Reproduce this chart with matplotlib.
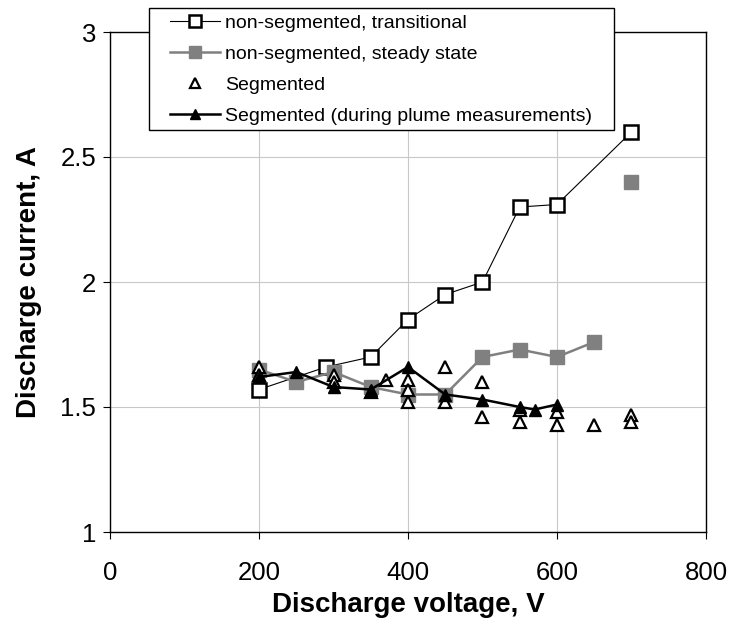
import matplotlib.pyplot as plt
from matplotlib.patches import Rectangle

plt.rcParams['font.family'] = ['Liberation Sans', 'DejaVu Sans']

# non-segmented, transitional
trans_v = [200, 290, 350, 400, 450, 500, 550, 600, 700]
trans_i = [1.57, 1.66, 1.70, 1.85, 1.95, 2.00, 2.30, 2.31, 2.60]

# non-segmented, steady state (last point not connected)
steady_v = [200, 250, 300, 350, 400, 450, 500, 550, 600, 650, 700]
steady_i = [1.65, 1.60, 1.64, 1.58, 1.55, 1.55, 1.70, 1.73, 1.70, 1.76, 2.40]

# Segmented
seg_v = [200, 200, 300, 300, 350, 370, 400, 400, 400, 450, 450, 500, 500,
         550, 550, 600, 600, 650, 700, 700]
seg_i = [1.66, 1.63, 1.63, 1.60, 1.56, 1.61, 1.61, 1.57, 1.52, 1.66, 1.52,
         1.60, 1.46, 1.49, 1.44, 1.48, 1.43, 1.43, 1.47, 1.44]

# Segmented (during plume measurements)
plume_v = [200, 250, 300, 350, 400, 450, 500, 550, 570, 600]
plume_i = [1.62, 1.64, 1.58, 1.57, 1.66, 1.55, 1.53, 1.50, 1.49, 1.51]

W, H = 730, 627
fig = plt.figure(figsize=(W / 100, H / 100), dpi=100)
ax = fig.add_axes([110 / W, 1 - 532 / H, 596 / W, 500 / H])

ax.plot(trans_v, trans_i, color='black', lw=0.8, marker='s', ms=10,
        mfc='white', mec='black', mew=1.8, label='non-segmented, transitional')
ax.plot(steady_v[:-1], steady_i[:-1], color='#808080', lw=1.8, marker='s', ms=10,
        mfc='#808080', mec='#808080', label='non-segmented, steady state')
ax.plot(steady_v[-1:], steady_i[-1:], ls='none', marker='s', ms=10,
        mfc='#808080', mec='#808080')
ax.plot(seg_v, seg_i, ls='none', marker='^', ms=9, mfc='white', mec='black',
        mew=1.6, label='Segmented')
ax.plot(plume_v, plume_i, color='black', lw=1.8, marker='^', ms=9,
        mfc='black', mec='black', label='Segmented (during plume measurements)')

ax.set_xlim(0, 800)
ax.set_ylim(1, 3)
ax.set_xticks([0, 200, 400, 600, 800])
ax.set_yticks([1, 1.5, 2, 2.5, 3])
ax.set_yticklabels(['1', '1.5', '2', '2.5', '3'])
ax.grid(True, color='#c8c8c8', lw=0.8)
ax.set_axisbelow(True)
ax.tick_params(direction='out', length=5, labelsize=18.5)
ax.tick_params(axis='x', pad=16)
ax.tick_params(axis='y', pad=5)
for s in ax.spines.values():
    s.set_linewidth(1.0)

ax.set_xlabel('Discharge voltage, V', fontsize=20, fontweight='bold', labelpad=5)
ax.set_ylabel('Discharge current, A', fontsize=20, fontweight='bold', labelpad=13)

# legend frame drawn by hand so that it sits over the top spine
box = Rectangle((149 / W, 1 - 130 / H), (614 - 149) / W, 122 / H,
                transform=fig.transFigure, facecolor='white', edgecolor='black',
                lw=1.0, zorder=5)
fig.patches.append(box)

handles, labels = ax.get_legend_handles_labels()
leg = fig.legend(handles, labels, loc='upper left',
                 bbox_to_anchor=(166 / W, 1 - 10 / H), bbox_transform=fig.transFigure,
                 fontsize=14, frameon=False, handlelength=2.6, labelspacing=0.7,
                 borderpad=0.2, handletextpad=0.25, borderaxespad=0, markerscale=0.85)
leg.set_zorder(6)

fig.savefig('out.png', dpi=100)
